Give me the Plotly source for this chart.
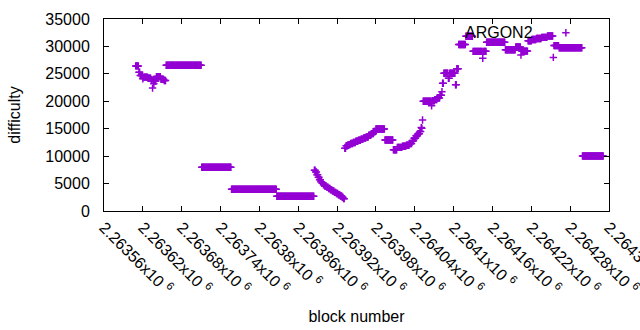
import plotly.graph_objects as go

# Runs of constant difficulty: (first block, last block, difficulty), one point per block
run_start = [2263609, 2263614, 2263616, 2263620, 2263621, 2263628, 2263633, 2263635, 2263636, 2263637,
             2263638, 2263641, 2263648, 2263653, 2263656, 2263711, 2263757, 2263827,
             2263885, 2263887, 2263889, 2263891, 2263893, 2263895, 2263897, 2263899, 2263901, 2263904,
             2263907, 2263910, 2263913, 2263916, 2263919, 2263922, 2263925, 2263928, 2263930,
             2263932, 2263934, 2263937, 2263941, 2263945, 2263949, 2263953, 2263957, 2263961, 2263965,
             2263969, 2263973, 2263977, 2263980, 2263994, 2264007, 2264013, 2264021, 2264027, 2264032,
             2264036, 2264039, 2264042, 2264045, 2264048, 2264050, 2264051, 2264052, 2264053, 2264066,
             2264067, 2264071, 2264075, 2264079, 2264082, 2264083, 2264085, 2264092, 2264094, 2264103,
             2264105, 2264108, 2264119, 2264130, 2264145, 2264146, 2264151, 2264180, 2264196, 2264204,
             2264205, 2264215, 2264221, 2264228, 2264236, 2264245, 2264254, 2264255, 2264263, 2264299]
run_end = [2263613, 2263615, 2263619, 2263620, 2263627, 2263632, 2263634, 2263635, 2263636, 2263637,
           2263640, 2263647, 2263652, 2263655, 2263710, 2263756, 2263826, 2263884,
           2263886, 2263888, 2263890, 2263892, 2263894, 2263896, 2263898, 2263900, 2263903, 2263906,
           2263909, 2263912, 2263915, 2263918, 2263921, 2263924, 2263927, 2263929, 2263931,
           2263933, 2263936, 2263940, 2263944, 2263948, 2263952, 2263956, 2263960, 2263964, 2263968,
           2263972, 2263976, 2263979, 2263993, 2264006, 2264012, 2264020, 2264026, 2264031, 2264035,
           2264038, 2264041, 2264044, 2264047, 2264049, 2264050, 2264051, 2264052, 2264065, 2264066,
           2264070, 2264074, 2264078, 2264081, 2264082, 2264084, 2264091, 2264093, 2264102, 2264104,
           2264107, 2264118, 2264129, 2264144, 2264145, 2264150, 2264179, 2264195, 2264203, 2264204,
           2264214, 2264220, 2264227, 2264235, 2264244, 2264253, 2264254, 2264262, 2264298, 2264331]
run_value = [26450, 25300, 24700, 24100, 24400, 24200, 23900, 22400, 23900, 23200,
             23700, 24500, 24000, 23800, 26580, 7970, 3950, 2680,
             7450, 7100, 6600, 6150, 5700, 5350, 5050, 4800, 4550, 4350,
             4100, 3850, 3650, 3400, 3200, 2950, 2750, 2500, 2250,
             11450, 11900, 12100, 12300, 12500, 12700, 12900, 13100, 13300, 13500,
             13800, 14100, 14500, 14950, 12950, 11150, 11600, 11800, 12000, 12300,
             12800, 13250, 13700, 14100, 14500, 15200, 15100, 16600, 20000, 19200,
             20100, 20300, 20600, 21100, 21750, 23300, 25100, 24200, 25100, 23000,
             25950, 30350, 31850, 29100, 27850, 29100, 30750, 29400, 29900, 28450,
             29150, 31050, 31250, 31450, 31650, 31900, 28000, 30150, 29750, 10030]

series_name = "ARGON2"
tick_blocks = [2263560, 2263620, 2263680, 2263740, 2263800, 2263860, 2263920,
               2263980, 2264040, 2264100, 2264160, 2264220, 2264280, 2264340]
tick_mantissa = ["2.26356", "2.26362", "2.26368", "2.26374", "2.2638", "2.26386", "2.26392",
                 "2.26398", "2.26404", "2.2641", "2.26416", "2.26422", "2.26428", "2.26434"]
y_ticks = [0, 5000, 10000, 15000, 20000, 25000, 30000, 35000]
y_labels = ["0", "5000", "10000", "15000", "20000", "25000", "30000", "35000"]

blocks, diffs = [], []
for s, e, v in zip(run_start, run_end, run_value):
    for b in range(s, e + 1):
        blocks.append(b)
        diffs.append(v)

COLOR = "#9400D3"
FONT = "Liberation Sans, Arial, sans-serif"

fig = go.Figure()
fig.add_trace(go.Scatter(
    x=blocks, y=diffs, mode="markers", name=" ",
    marker=dict(symbol="cross-thin", size=5.3, color=COLOR,
                line=dict(width=1.5, color=COLOR)),
    showlegend=True,
))

# gnuplot-style key: label text on the left, sample point on the right
fig.add_annotation(
    text=series_name, xref="paper", yref="paper",
    x=0.8535, y=0.932, xanchor="right", yanchor="middle",
    showarrow=False, font=dict(size=16, color="black"),
)

fig.update_layout(
    width=640, height=330,
    margin=dict(l=104, r=31, t=19, b=119),
    paper_bgcolor="white", plot_bgcolor="white",
    font=dict(family=FONT, size=16, color="black"),
    showlegend=True,
    legend=dict(
        x=0.875, xanchor="left", y=1.016, yanchor="top",
        bgcolor="rgba(0,0,0,0)", borderwidth=0,
    ),
    xaxis=dict(
        range=[2263560, 2264340],
        tickvals=tick_blocks,
        ticktext=[m + "x10 <sup>6</sup>" for m in tick_mantissa],
        tickangle=45,
        ticklabeloverflow="allow",
        ticks="inside", ticklen=5, tickcolor="black",
        showline=True, linecolor="black", linewidth=1, mirror="ticks",
        showgrid=False, zeroline=False, automargin=False,
        title=dict(text="block number", font=dict(size=16), standoff=14),
    ),
    yaxis=dict(
        range=[0, 35000],
        tickvals=y_ticks, ticktext=y_labels,
        ticks="inside", ticklen=5, tickcolor="black",
        showline=True, linecolor="black", linewidth=1, mirror="ticks",
        showgrid=False, zeroline=False, automargin=False,
        ticklabelstandoff=10,
        title=dict(text="difficulty", font=dict(size=16), standoff=20),
    ),
)

fig.write_html("out.html")
